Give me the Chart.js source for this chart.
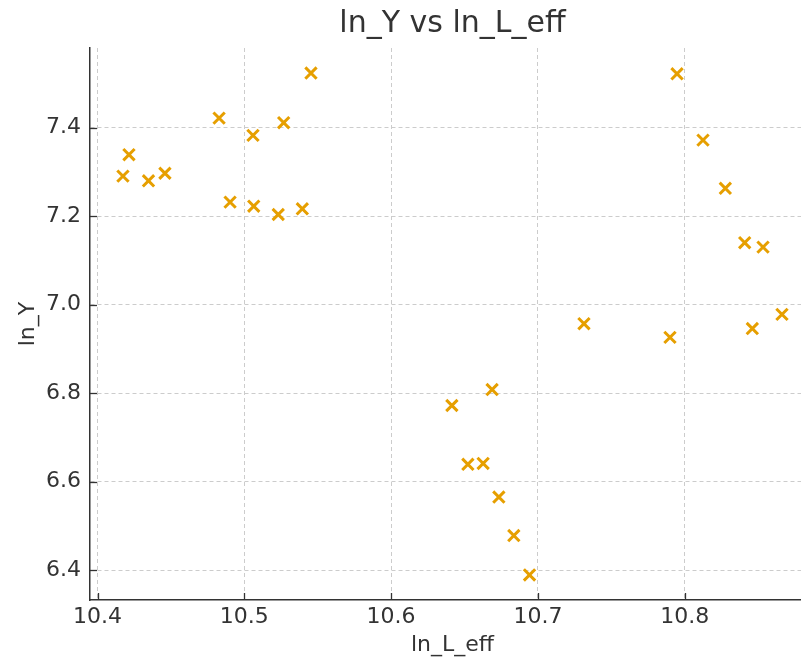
<!DOCTYPE html>
<html>
<head>
<meta charset="utf-8">
<script src="https://cdn.jsdelivr.net/npm/chart.js@4/dist/chart.umd.min.js"></script>
<style>
  html, body { margin: 0; padding: 0; overflow: hidden; background: #fff; width: 801px; height: 664px; }
  #wrap { width: 826px; height: 664px; }
  canvas { display: block; }
</style>
</head>
<body>
<div id="wrap"><canvas id="c" width="826" height="664"></canvas></div>
<script>
const chartTitle = 'ln_Y vs ln_L_eff';
const xLabel = 'ln_L_eff';
const yLabel = 'ln_Y';

const lnLeff = [10.4173, 10.4214, 10.4347, 10.4459, 10.4828, 10.4903, 10.5059, 10.5064, 10.5268, 10.5231,
                10.5395, 10.5454, 10.6414, 10.6523, 10.6627, 10.6688, 10.6734, 10.6836, 10.6943, 10.7314,
                10.7900, 10.7948, 10.8125, 10.8277, 10.8409, 10.8461, 10.8534, 10.8663];
const lnY    = [7.2905, 7.339, 7.280, 7.297, 7.4217, 7.2317, 7.3826, 7.2226, 7.4113, 7.2038,
                7.2167, 7.5235, 6.772, 6.639, 6.641, 6.808, 6.565, 6.478, 6.389, 6.957,
                6.926, 7.5218, 7.372, 7.263, 7.140, 6.946, 7.130, 6.978];

const xTicks = [10.4, 10.5, 10.6, 10.7, 10.8];
const yTicks = [6.4, 6.6, 6.8, 7.0, 7.2, 7.4];

const xMin = 10.39485, xMax = 10.8888;
const yMin = 6.3323, yMax = 7.5802;

const points = lnLeff.map((x, i) => ({ x: x, y: lnY[i] }));

const FONT = "'DejaVu Sans', sans-serif";
const TEXT = '#333333';
const GRID = '#cccccc';
const AXIS = '#333333';

const inwardTicks = {
  id: 'inwardTicks',
  afterDatasetsDraw(chart) {
    const ctx = chart.ctx;
    const xs = chart.scales.x, ys = chart.scales.y;
    const a = chart.chartArea;
    ctx.save();
    ctx.strokeStyle = AXIS;
    ctx.lineWidth = 1.3;
    xs.ticks.forEach((t, i) => {
      const px = Math.round(xs.getPixelForTick(i)) + 0.5;
      ctx.beginPath(); ctx.moveTo(px, a.bottom); ctx.lineTo(px, a.bottom - 7); ctx.stroke();
    });
    ys.ticks.forEach((t, i) => {
      const py = Math.round(ys.getPixelForTick(i)) + 0.5;
      ctx.beginPath(); ctx.moveTo(a.left, py); ctx.lineTo(a.left + 7, py); ctx.stroke();
    });
    ctx.restore();
  }
};

new Chart(document.getElementById('c'), {
  type: 'scatter',
  data: {
    datasets: [{
      data: points,
      pointStyle: 'crossRot',
      pointRadius: 8,
      pointHoverRadius: 8,
      borderWidth: 3,
      borderColor: '#E69F00',
      backgroundColor: '#E69F00'
    }]
  },
  options: {
    responsive: false,
    animation: false,
    layout: { padding: 0 },
    plugins: {
      legend: { display: false },
      tooltip: { enabled: false },
      title: {
        display: true,
        text: chartTitle,
        fullSize: false,
        color: TEXT,
        font: { family: FONT, size: 30, weight: 'normal', lineHeight: 1.2 },
        padding: { top: 6, bottom: 6 }
      }
    },
    scales: {
      x: {
        type: 'linear',
        min: xMin, max: xMax,
        afterBuildTicks: s => { s.ticks = xTicks.map(v => ({ value: v })); },
        afterFit: s => { s.height = 64; },
        ticks: {
          color: TEXT, padding: 4,
          font: { family: FONT, size: 22 },
          callback: v => Number(v).toFixed(1)
        },
        grid: { color: GRID, lineWidth: 1, drawTicks: false },
        border: { display: true, color: AXIS, width: 1.5, dash: [4, 3] },
        title: {
          display: true, text: xLabel, color: TEXT,
          font: { family: FONT, size: 22, lineHeight: 1.2 },
          padding: { top: 0, bottom: 6 }
        }
      },
      y: {
        type: 'linear',
        min: yMin, max: yMax,
        afterBuildTicks: s => { s.ticks = yTicks.map(v => ({ value: v })); },
        afterFit: s => { s.width = 90; },
        ticks: {
          color: TEXT, padding: 9,
          font: { family: FONT, size: 22 },
          callback: v => Number(v).toFixed(1)
        },
        grid: { color: GRID, lineWidth: 1, drawTicks: false },
        border: { display: true, color: AXIS, width: 1.5, dash: [4, 3] },
        title: {
          display: true, text: yLabel, color: TEXT,
          font: { family: FONT, size: 22, lineHeight: 1.2 },
          padding: { top: 15, bottom: 0 }
        }
      }
    }
  },
  plugins: [inwardTicks]
});
</script>
</body>
</html>
